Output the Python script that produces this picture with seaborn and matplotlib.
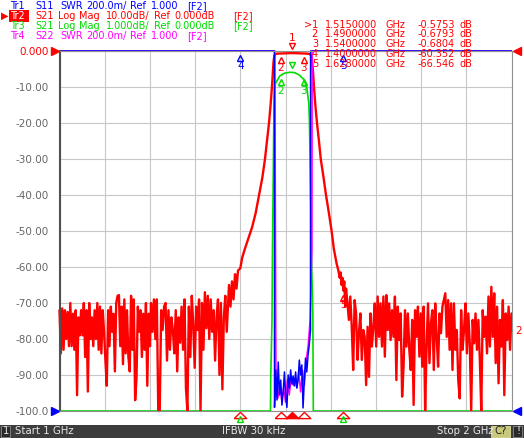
import numpy as np
import pandas as pd
import matplotlib
matplotlib.use("Agg")
import matplotlib.pyplot as plt
import matplotlib.transforms as mtransforms
from matplotlib.patches import Rectangle
import seaborn as sns

W, H = 524, 438

# ---------------- values ----------------
# Tr2 S21 log mag (dB), noise floor left of the passband (1.000 -> ~1.37 GHz)
s21_noise_left_a = [-72, -84, -71.5, -83, -72, -80, -72.5, -82, -70, -82, -73, -83, -72, -95.6,
                    -74, -79, -72, -79, -70, -85, -72, -94.6, -70, -80, -74, -82, -72, -80, -70,
                    -83, -71, -84, -72, -78, -86, -93, -72, -82, -71, -78, -73, -89, -70, -68,
                    -67.8, -82, -71, -87, -69, -84, -72, -85, -89, -68, -83, -69, -97, -91, -71,
                    -78, -72, -85, -73, -83, -70, -93, -73, -82]
s21_noise_left_b = [-70, -78, -69, -80, -69, -100, -100, -72, -77.5, -71, -70, -86, -72, -83, -74,
                    -77.5, -84, -72, -89, -74, -81, -71, -83, -69, -93.7, -100, -71, -85, -68,
                    -76, -88, -71, -77.5, -69, -100, -70, -83, -67, -77, -68, -80, -69, -78, -72,
                    -86, -74, -69, -90, -70, -94, -74, -68, -78]
# skirts and passband (GHz, dB)
s21_skirt_freq = [1.375, 1.3783, 1.3816, 1.385, 1.3883, 1.3916, 1.3949, 1.400, 1.404, 1.410,
                  1.418, 1.426, 1.434, 1.4414, 1.449, 1.4546, 1.459, 1.4635, 1.467, 1.470,
                  1.472, 1.4735, 1.4755, 1.478, 1.482, 1.490, 1.500, 1.515, 1.530, 1.540,
                  1.548, 1.554, 1.557, 1.559, 1.561, 1.563, 1.566, 1.5697, 1.574, 1.578,
                  1.584, 1.5896, 1.596, 1.602, 1.607, 1.613, 1.617, 1.620, 1.622, 1.624,
                  1.626, 1.628, 1.630, 1.632, 1.634]
s21_skirt_db = [-65, -71, -64, -69, -62, -66, -61, -60.35, -57.5, -55,
                -52, -49, -45, -40, -35, -30, -25, -20, -15, -10,
                -6, -3, -1.2, -0.85, -0.72, -0.679, -0.62, -0.575, -0.63, -0.68,
                -0.72, -0.85, -1.3, -3, -6, -10, -15, -20, -25, -30,
                -35, -40, -45, -50, -55, -59, -61, -63, -61.5, -65,
                -63, -66.5, -64, -71, -66]
# noise floor right of the passband (~1.637 -> 2.000 GHz)
s21_noise_right = [-70, -74.7, -68.2, -76.6, -88.6, -69.2, -72.9, -85.8, -78.4, -72.9, -85.8,
                   -77.5, -79.4, -92.8, -76.6, -90.5, -72.9, -82.1, -76.6, -70.1, -82.1, -68.2,
                   -79.4, -70.1, -82.1, -68.2, -84.9, -67.8, -77.5, -70.1, -80.3, -72, -79.4,
                   -68.2, -91.4, -71, -80.3, -72.9, -96, -87.7, -72, -82.1, -72.9, -83, -88.6,
                   -74.7, -98.3, -72, -79.4, -71, -84.9, -72.9, -87.7, -71, -100, -82.1, -70.1,
                   -86.7, -75.7, -72, -88.6, -70.1, -79.4, -87.7, -72.9, -78.4, -71, -69.2,
                   -67.3, -79.4, -69.2, -83, -70.1, -88.6, -70.1, -83, -77.5, -91.4, -96.5, -72,
                   -83, -77.5, -70.1, -84, -72.9, -81.2, -100, -74.7, -81.2, -72.9, -83, -74.7,
                   -85.8, -100, -72, -79.4, -73.8, -84, -68.2, -82.1, -65.5, -79.4, -67.3, -86.7,
                   -71, -92.3, -74.7, -82.1, -69.2, -95.6, -72.9, -80.3, -71, -83, -72.9]

# Tr3 S21 at 1 dB/div (GHz, dB)
tr3_freq = [1.0, 1.4668, 1.4673, 1.4701, 1.4712, 1.4735, 1.4745, 1.4755, 1.4778, 1.4875, 1.497,
            1.510, 1.520, 1.531, 1.541, 1.547, 1.5515, 1.553, 1.5555, 1.558, 1.5605, 1.5615, 2.0]
tr3_db = [-12, -12, -9.1, -7.5, -5.5, -2.7, -1.55, -1.04, -0.9, -0.69, -0.62,
          -0.59, -0.60, -0.67, -0.8, -1.0, -1.45, -1.96, -4.0, -6.0, -7.3, -12, -12]

# Tr1 S11 / Tr4 S22 SWR inside the passband (everything else is off the top)
s11_pass_swr = [1.02, 1.228, 1.061, 1.272, 1.089, 1.172, 1.033, 1.106, 1.217, 1.083, 1.02, 1.2,
                1.128, 1.228, 1.15, 1.194, 1.139, 1.217, 1.128, 1.172, 1.283, 1.2, 1.256, 1.017,
                1.172, 1.294, 1.217, 1.311, 1.367, 1.45]
s22_pass_swr = [1.117, 1.072, 1.144, 1.061, 1.128, 1.05, 1.172, 1.089, 1.183, 1.144, 1.172,
                1.128, 1.217, 1.106, 1.228, 1.144, 1.283, 1.367, 1.506, 1.9]
swr_out = 30.0

marker_ids = ['>1', '2', '3', '4', '5']
marker_freq = [1.515, 1.49, 1.54, 1.40, 1.628]
marker_val = [-0.5753, -0.6793, -0.6804, -60.352, -66.546]

ytick_vals = list(range(-100, 1, 10))
ytick_labels = ['-100.0', '-90.00', '-80.00', '-70.00', '-60.00', '-50.00',
                '-40.00', '-30.00', '-20.00', '-10.00', '0.000']

RED, BLUE, GREEN, MAG = '#ff0000', '#0000ff', '#00dc00', '#ff00ff'

# ---------------- build traces ----------------
f_red = np.concatenate([np.linspace(1.0, 1.2002, len(s21_noise_left_a)),
                        np.linspace(1.2024, 1.370, len(s21_noise_left_b)),
                        s21_skirt_freq,
                        np.linspace(1.637, 2.0, len(s21_noise_right))])
db_red = np.concatenate([s21_noise_left_a, s21_noise_left_b, s21_skirt_db, s21_noise_right])
df_red = pd.DataFrame({'freq': f_red, 'disp': np.clip(db_red, -100, 0)})

df_green = pd.DataFrame({'freq': tr3_freq, 'disp': np.clip(np.array(tr3_db) * 10, -100, 0)})


def swr_disp(s):
    # 200m/div, ref 1.000 at the bottom line
    return np.clip(-100 + 50 * (np.asarray(s) - 1), -100, 0)


f_s11 = np.concatenate([[1.0, 1.4755], np.linspace(1.4757, 1.5553, len(s11_pass_swr)), [1.5555, 2.0]])
v_s11 = np.concatenate([[swr_out, swr_out], s11_pass_swr, [swr_out, swr_out]])
df_blue = pd.DataFrame({'freq': f_s11, 'disp': swr_disp(v_s11)})

f_s22 = np.concatenate([[1.0, 1.4765], np.linspace(1.479, 1.5586, len(s22_pass_swr)), [1.559, 2.0]])
v_s22 = np.concatenate([[swr_out, swr_out], s22_pass_swr, [swr_out, swr_out]])
df_mag = pd.DataFrame({'freq': f_s22, 'disp': swr_disp(v_s22)})

# ---------------- figure ----------------
sns.set_style("white")
plt.rcParams['font.family'] = ['DejaVu Sans']
fig = plt.figure(figsize=(W / 100, H / 100), dpi=100)
ax = fig.add_axes([59.5 / W, 1 - 411 / H, 452 / W, 360 / H])

sns.lineplot(data=df_green, x='freq', y='disp', color=GREEN, lw=1.2, ax=ax, estimator=None, sort=False)
sns.lineplot(data=df_red, x='freq', y='disp', color=RED, lw=1.7, ax=ax, estimator=None, sort=False)
sns.lineplot(data=df_mag, x='freq', y='disp', color=MAG, lw=1.1, ax=ax, estimator=None, sort=False)
sns.lineplot(data=df_blue, x='freq', y='disp', color=BLUE, lw=1.1, ax=ax, estimator=None, sort=False)
for ln in ax.lines:
    ln.set_clip_on(False)

ax.set_xlim(1.0, 2.0)
ax.set_ylim(-100, 0)
ax.set_xticks(np.linspace(1.0, 2.0, 11))
ax.set_xticklabels([])
ax.set_yticks(ytick_vals)
ax.set_yticklabels(ytick_labels)
ax.tick_params(length=0, pad=8, labelsize=7.5, labelcolor='#666666')
ax.get_yticklabels()[-1].set_color(RED)
ax.set_xlabel('')
ax.set_ylabel('')
ax.grid(True, color='#c8c8c8', lw=0.8)
for s in ax.spines.values():
    s.set_color('#909090')
    s.set_linewidth(0.8)
ax.spines['left'].set_color('#505050')
ax.spines['left'].set_linewidth(1.5)

# reference position arrows
ax.plot([-0.009], [1.0], marker='>', ms=6, color=RED, transform=ax.transAxes, clip_on=False)
ax.plot([-0.009], [0.0], marker='>', ms=6, color=BLUE, transform=ax.transAxes, clip_on=False)
ax.plot([1.012], [1.0], marker='<', ms=6, color=RED, transform=ax.transAxes, clip_on=False)
ax.plot([1.012], [0.0], marker='<', ms=6, color=BLUE, transform=ax.transAxes, clip_on=False)
fig.text(515 / W, 1 - 331 / H, '2', color=RED, fontsize=7.5, va='center')


def off(dy):
    return mtransforms.offset_copy(ax.transData, fig=fig, x=0, y=dy, units='dots')


def mark(f, v, col, up, label, dy_lbl):
    if up:
        ax.plot([f], [v], marker='v', ms=5, mfc='none', mec=col, mew=1, transform=off(7), clip_on=False)
    else:
        ax.plot([f], [v], marker='^', ms=5, mfc='none', mec=col, mew=1, transform=off(-7), clip_on=False)
    if label:
        ax.text(f, v, label, color=col, fontsize=7.5, ha='center', va='center',
                transform=off(dy_lbl), clip_on=False)


# Tr2 markers
mark(marker_freq[0], marker_val[0], RED, True, '1', 15)
mark(marker_freq[1], marker_val[1], RED, False, '2', -15)
mark(marker_freq[2], marker_val[2], RED, False, '3', -15)
mark(marker_freq[4], marker_val[4], RED, False, '5', -14)
# Tr3 markers
mark(marker_freq[0], marker_val[0] * 10, GREEN, True, '', 0)
mark(marker_freq[1], marker_val[1] * 10, GREEN, False, '2', -16)
mark(marker_freq[2], marker_val[2] * 10, GREEN, False, '3', -16)
# Tr1 markers (SWR off the top)
mark(marker_freq[3], 0, BLUE, False, '4', -15)
mark(marker_freq[4], 0, BLUE, False, '5', -15)

# stimulus markers below the grid
flat_tri = [(-1, -0.5), (1, -0.5), (0, 0.5), (-1, -0.5)]
below = mtransforms.offset_copy(mtransforms.blended_transform_factory(ax.transData, ax.transAxes),
                                fig=fig, x=0, y=-4, units='dots')
below_g = mtransforms.offset_copy(mtransforms.blended_transform_factory(ax.transData, ax.transAxes),
                                  fig=fig, x=0, y=-8, units='dots')
for i, f in enumerate(marker_freq):
    if i == 0:
        ax.plot([f], [0], marker=flat_tri, ms=9, color=RED, transform=below, clip_on=False)
    else:
        ax.plot([f], [0], marker=flat_tri, ms=9, mfc='none', mec=RED, mew=1, transform=below, clip_on=False)
    if i >= 3:
        ax.plot([f], [0], marker='^', ms=4, mfc='none', mec=GREEN, mew=1, transform=below_g, clip_on=False)


# ---------------- header text ----------------
def ftext(x, y, s, **kw):
    kw.setdefault('fontsize', 7)
    fig.text(x / W, 1 - y / H, s, va='center', **kw)


rows = [
    (6, BLUE, ['Tr1', 'S11', 'SWR', '200.0m/', 'Ref', '1.000', '[F2]'], [10, 35, 60, 86, 130, 151, 187]),
    (16, RED, ['Tr2', 'S21', 'Log', 'Mag', '10.00dB/', 'Ref', '0.000dB', '[F2]'], [10, 35, 58, 79, 106, 154, 174, 233]),
    (26, GREEN, ['Tr3', 'S21', 'Log', 'Mag', '1.000dB/', 'Ref', '0.000dB', '[F2]'], [10, 35, 58, 79, 106, 154, 174, 233]),
    (36, MAG, ['Tr4', 'S22', 'SWR', '200.0m/', 'Ref', '1.000', '[F2]'], [10, 35, 60, 86, 130, 151, 187]),
]
fig.add_artist(Rectangle((8.5 / W, 1 - 21.5 / H), 20 / W, 11 / H, transform=fig.transFigure,
                         color=RED, lw=0))
ftext(1, 16, '\u25B6', color=RED)
for y, col, toks, xs in rows:
    for i, (t, x) in enumerate(zip(toks, xs)):
        c = 'white' if (col == RED and i == 0) else col
        ftext(x, y, t, color=c)

# marker table
for k, (mid, f, v) in enumerate(zip(marker_ids, marker_freq, marker_val)):
    y = 24.5 + 9.8 * k
    vs = f'{v:.4f}' if abs(v) < 10 else f'{v:.3f}'
    ftext(318, y, mid, color=RED, ha='right')
    ftext(325, y, f'{f:.7f}', color=RED)
    ftext(386, y, 'GHz', color=RED)
    ftext(455, y, vs, color=RED, ha='right')
    ftext(459, y, 'dB', color=RED)

# ---------------- status bar ----------------
fig.add_artist(Rectangle((0, 0), 1, 13.5 / H, transform=fig.transFigure, color='#3c3c3c', lw=0))
fig.add_artist(Rectangle((0.5 / W, 1 / H), 9.5 / W, 11.5 / H, transform=fig.transFigure,
                         fc='#2a2a2a', ec='#8a8a8a', lw=0.6))
fig.add_artist(Rectangle((491 / W, 1 / H), 19 / W, 11.5 / H, transform=fig.transFigure,
                         fc='#c8c87a', ec='#e0e0a0', lw=0.6))
fig.add_artist(Rectangle((513 / W, 1 / H), 9 / W, 11.5 / H, transform=fig.transFigure,
                         fc='#2a2a2a', ec='#8a8a8a', lw=0.6))
ftext(3, 431, '1', color='#e8e8e8', fontsize=7.3)
ftext(15, 431, 'Start 1 GHz', color='#e8e8e8', fontsize=7.3)
ftext(222, 431, 'IFBW 30 kHz', color='#e8e8e8', fontsize=7.3)
ftext(437, 431, 'Stop 2 GHz', color='#e8e8e8', fontsize=7.3)
ftext(494, 431, 'C?', color='#202020', fontsize=7.3)
ftext(516, 431, '!', color='#e8e8e8', fontsize=7.3)

fig.savefig('out.png', dpi=100)
